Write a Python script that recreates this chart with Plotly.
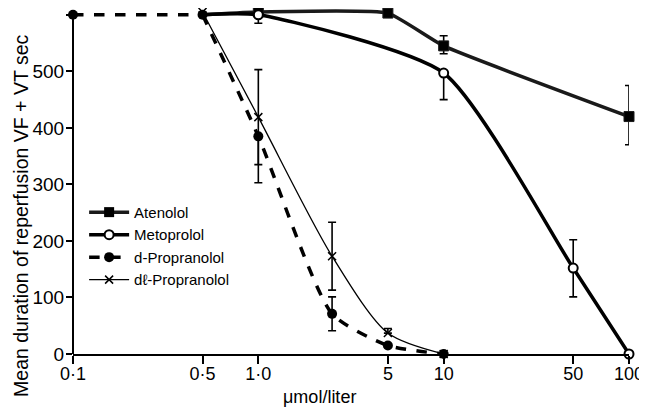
import plotly.graph_objects as go

# ---- data ----
x_ticks = [0.1, 0.5, 1.0, 5, 10, 50, 100]
x_tick_labels = ["0·1", "0·5", "1·0", "5", "10", "50", "100"]
y_ticks = [0, 100, 200, 300, 400, 500, 600]

aten_x = [0.5, 1.0, 5, 10, 100]
aten_y = [600, 605, 603, 545, 420]
aten_ep = [0, 0, 0, 18, 55]
aten_em = [0, 0, 0, 14, 50]

meto_x = [0.5, 1.0, 10, 50, 100]
meto_y = [600, 600, 497, 152, 0]
meto_ep = [0, 0, 0, 50, 0]
meto_em = [0, 15, 47, 51, 0]

dprop_x = [0.1, 0.5, 1.0, 2.5, 5, 10]
dprop_y = [600, 600, 385, 71, 15, 0]
dprop_ep = [0, 0, 0, 30, 0, 0]
dprop_em = [0, 0, 82, 30, 0, 0]

dlprop_x = [0.5, 1.0, 2.5, 5, 10]
dlprop_y = [605, 419, 173, 37, 0]
dlprop_ep = [0, 84, 60, 8, 0]
dlprop_em = [0, 84, 60, 0, 0]

FONT = "Liberation Sans, Arial, sans-serif"

fig = go.Figure()

def err(ep, em):
    return dict(type="data", symmetric=False, array=ep, arrayminus=em,
                color="black", thickness=1.6, width=4)

fig.add_trace(go.Scatter(
    x=aten_x, y=aten_y, name="Atenolol", mode="lines+markers",
    line=dict(color="#1a1a1a", width=3.5, shape="spline", smoothing=0.4),
    marker=dict(symbol="square", size=[0, 10, 10, 10, 10], color="black",
                opacity=1),
    error_y=err(aten_ep, aten_em), cliponaxis=False, showlegend=False))

# legend entry for Atenolol
fig.add_trace(go.Scatter(
    x=[None], y=[None], name="Atenolol", mode="lines+markers",
    line=dict(color="#1a1a1a", width=3.5),
    marker=dict(symbol="square", size=10, color="black")))

fig.add_trace(go.Scatter(
    x=meto_x, y=meto_y, name="Metoprolol", mode="lines+markers",
    line=dict(color="black", width=3.5, shape="spline", smoothing=0.6),
    marker=dict(symbol="circle", size=[0, 9, 9, 9, 9], color="white",
                opacity=1, line=dict(color="black", width=2)),
    error_y=err(meto_ep, meto_em), cliponaxis=False, showlegend=False))

# legend entry for Metoprolol (line + full-size marker)
fig.add_trace(go.Scatter(
    x=[None], y=[None], name="Metoprolol", mode="lines+markers",
    line=dict(color="black", width=3.5),
    marker=dict(symbol="circle", size=9, color="white",
                line=dict(color="black", width=2))))

# straight dashed lead-in segment (first two d-Propranolol points)
fig.add_trace(go.Scatter(
    x=dprop_x[:2], y=dprop_y[:2], mode="lines", showlegend=False,
    line=dict(color="black", width=3.5, dash="dash"), hoverinfo="skip"))

fig.add_trace(go.Scatter(
    x=dprop_x[1:], y=dprop_y[1:], name="d-Propranolol", mode="lines",
    line=dict(color="black", width=3.5, dash="dash", shape="spline", smoothing=0.6),
    showlegend=False))

fig.add_trace(go.Scatter(
    x=dprop_x, y=dprop_y, name="d-Propranolol", mode="markers",
    marker=dict(symbol="circle", size=10, color="black"),
    error_y=err(dprop_ep, dprop_em), cliponaxis=False, showlegend=False))

# legend entry for d-Propranolol (line + marker)
fig.add_trace(go.Scatter(
    x=[None], y=[None], name="d-Propranolol", mode="lines+markers",
    line=dict(color="black", width=3.5, dash="dash"),
    marker=dict(symbol="circle", size=10, color="black")))

fig.add_trace(go.Scatter(
    x=dlprop_x, y=dlprop_y, name="dℓ-Propranolol", mode="lines+markers",
    line=dict(color="black", width=1.3, shape="spline", smoothing=0.8),
    marker=dict(symbol="x-thin", size=8, color="black",
                line=dict(color="black", width=1.5)),
    error_y=err(dlprop_ep, dlprop_em), cliponaxis=False))

fig.update_layout(
    width=639, height=400,
    margin=dict(l=65, r=18, t=0, b=54, pad=0, autoexpand=False),
    paper_bgcolor="white", plot_bgcolor="white",
    font=dict(family=FONT, size=18, color="black"),
    showlegend=True,
    legend=dict(x=0.02, y=0.457, xanchor="left", yanchor="top",
                font=dict(size=15), bgcolor="rgba(0,0,0,0)",
                tracegroupgap=0, itemwidth=40),
    xaxis=dict(type="log", range=[-1, 2], tickvals=x_ticks,
               ticktext=x_tick_labels, showgrid=False, zeroline=False,
               showline=True, linecolor="black", linewidth=2,
               ticks="outside", ticklen=8, tickwidth=1.5, tickcolor="black",
               tickfont=dict(size=18), automargin=False,
               ticklabelstandoff=-6),
    yaxis=dict(range=[0, 612], tickvals=y_ticks, showgrid=False,
               zeroline=False, showline=False,
               ticks="outside", ticklen=6, tickwidth=1.5, tickcolor="black",
               tickfont=dict(size=19), automargin=False,
               ticklabelstandoff=-2),
    shapes=[dict(type="line", xref="paper", yref="y", x0=0, x1=0,
                 y0=0, y1=600, line=dict(color="black", width=2))],
    annotations=[
        dict(text="μmol/liter", xref="paper", yref="paper",
             x=0.444, y=-0.124, xanchor="center", yanchor="middle",
             showarrow=False, font=dict(size=18)),
        dict(text="Mean duration of reperfusion VF + VT sec",
             xref="paper", yref="paper", x=-0.0935, y=0.399,
             xanchor="center", yanchor="middle", textangle=-90,
             showarrow=False, font=dict(size=19.5)),
    ],
)

fig.write_html("out.html")
